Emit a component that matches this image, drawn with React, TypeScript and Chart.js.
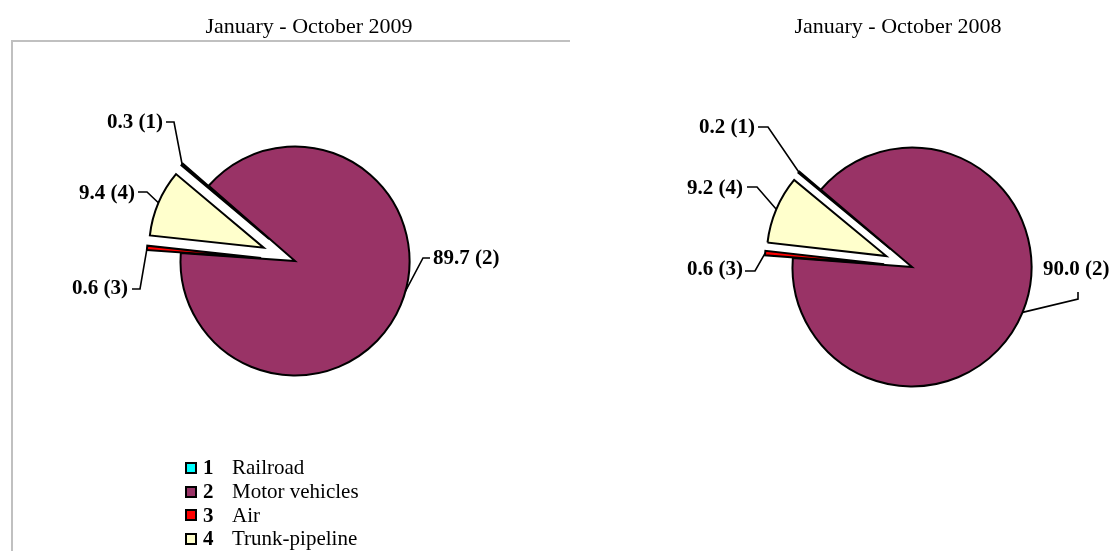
import React, { useEffect, useRef } from "react";
import { Chart, registerables } from "chart.js";

Chart.register(...registerables);

// ---------- data ----------
const categories = ["Railroad", "Motor vehicles", "Air", "Trunk-pipeline"];
const categoryNumbers = ["1", "2", "3", "4"];
const values2009 = [0.3, 89.7, 0.6, 9.4];
const values2008 = [0.2, 90.0, 0.6, 9.2];
const title2009 = "January - October 2009";
const title2008 = "January - October 2008";

// ---------- styles ----------
const sliceColors = ["#00FFFF", "#993366", "#FF0000", "#FFFFCC"];
const exploded = [true, false, true, true];
const H = 551;
const FONT = '"Liberation Serif", "Times New Roman", serif';

type LabelPos = { tx: number; ty: number; align: "left" | "right"; elbows: [number, number][]; at?: number };
type PieLayout = {
  left: number;
  width: number;
  cx: number;
  cy: number;
  r: number;
  explode: number;
  rotation: number;
  labels: LabelPos[];
};

const layout2009: PieLayout = {
  left: 0,
  width: 600,
  cx: 295,
  cy: 261,
  r: 114.5,
  explode: 34,
  rotation: 310,
  labels: [
    { tx: -132, ty: -138, align: "right", elbows: [[-129, -139], [-121, -139]] },
    { tx: 138, ty: -2, align: "left", elbows: [[135, -3], [128, -3]], at: 0.478 },
    { tx: -167, ty: 28, align: "right", elbows: [[-163, 28], [-155, 28]] },
    { tx: -160, ty: -67, align: "right", elbows: [[-157, -69], [-148, -69]] },
  ],
};

const layout2008: PieLayout = {
  left: 600,
  width: 514,
  cx: 312,
  cy: 267,
  r: 119.5,
  explode: 28,
  rotation: 309.6,
  labels: [
    { tx: -157, ty: -139, align: "right", elbows: [[-154, -140], [-144, -140]] },
    { tx: 131, ty: 3, align: "left", elbows: [[166, 25], [166, 32]] },
    { tx: -169, ty: 3, align: "right", elbows: [[-167, 4], [-157, 4]] },
    { tx: -169, ty: -78, align: "right", elbows: [[-165, -80], [-155, -80]] },
  ],
};

function PieChart({ values, layout }: { values: number[]; layout: PieLayout }) {
  const ref = useRef<HTMLCanvasElement>(null);
  useEffect(() => {
    const canvas = ref.current;
    if (!canvas) return;
    const bw = 2;
    const side = 2 * layout.r + bw;
    const padL = layout.cx - side / 2;
    const padT = layout.cy - side / 2;
    const padding = {
      left: padL,
      top: padT,
      right: layout.width - padL - side,
      bottom: H - padT - side,
    };
    const shifts = exploded.map((e) => (e ? layout.explode : 0));

    const explodePlugin = {
      id: "explodeSlices",
      beforeDatasetDraw(chart: any, args: any) {
        const ctx = chart.ctx;
        const meta = args.meta;
        meta.data.forEach((arc: any, i: number) => {
          const mid = (arc.startAngle + arc.endAngle) / 2;
          const d = shifts[i] || 0;
          ctx.save();
          ctx.translate(Math.cos(mid) * d, Math.sin(mid) * d);
          arc.draw(ctx);
          ctx.restore();
        });
        return false;
      },
    };

    const labelPlugin = {
      id: "leaderLabels",
      afterDatasetsDraw(chart: any) {
        const ctx = chart.ctx;
        const meta = chart.getDatasetMeta(0);
        const data = chart.data.datasets[0].data as number[];
        meta.data.forEach((arc: any, i: number) => {
          const { x, y, startAngle, endAngle, outerRadius } = arc;
          const mid = (startAngle + endAngle) / 2;
          const L = layout.labels[i];
          const frac = L.at ?? 0.5;
          const a = startAngle + (endAngle - startAngle) * frac;
          const d = shifts[i] || 0;
          const ox = x + Math.cos(mid) * d;
          const oy = y + Math.sin(mid) * d;
          const px = ox + Math.cos(a) * outerRadius;
          const py = oy + Math.sin(a) * outerRadius;
          ctx.save();
          ctx.strokeStyle = "#000";
          ctx.lineWidth = 1.6;
          ctx.lineJoin = "miter";
          ctx.beginPath();
          ctx.moveTo(x + L.elbows[0][0], y + L.elbows[0][1]);
          for (let k = 1; k < L.elbows.length; k++) ctx.lineTo(x + L.elbows[k][0], y + L.elbows[k][1]);
          ctx.lineTo(px, py);
          ctx.stroke();
          ctx.font = `bold 21px ${FONT}`;
          ctx.fillStyle = "#000";
          ctx.textAlign = L.align;
          ctx.textBaseline = "middle";
          ctx.fillText(`${data[i].toFixed(1)} (${categoryNumbers[i]})`, x + L.tx, y + L.ty);
          ctx.restore();
        });
      },
    };

    const chart = new Chart(canvas, {
      type: "pie",
      data: {
        labels: categories,
        datasets: [
          {
            data: values,
            backgroundColor: sliceColors,
            hoverBackgroundColor: sliceColors,
            borderColor: "#000000",
            hoverBorderColor: "#000000",
            borderWidth: bw,
            hoverBorderWidth: bw,
            borderJoinStyle: "miter",
            offset: 0,
            hoverOffset: 0,
          } as any,
        ],
      },
      options: {
        responsive: false,
        animation: false,
        events: [],
        rotation: layout.rotation,
        layout: { padding },
        plugins: {
          legend: { display: false },
          tooltip: { enabled: false },
          title: { display: false },
        },
      } as any,
      plugins: [explodePlugin, labelPlugin],
    });
    return () => chart.destroy();
  }, [values, layout]);

  return (
    <canvas
      ref={ref}
      width={layout.width}
      height={H}
      style={{ position: "absolute", left: layout.left, top: 0, width: layout.width, height: H }}
    />
  );
}

export default function App() {
  const titleStyle = (cx: number): React.CSSProperties => ({
    position: "absolute",
    left: cx - 200,
    width: 400,
    top: 12,
    lineHeight: "28px",
    textAlign: "center",
    fontFamily: FONT,
    fontSize: 22,
    color: "#000",
    whiteSpace: "nowrap",
  });
  return (
    <div
      style={{
        position: "fixed",
        left: 0,
        top: 0,
        width: 1114,
        height: H,
        background: "#fff",
        overflow: "hidden",
      }}
    >
      {/* plot-area frame remnants */}
      <div style={{ position: "absolute", left: 11, top: 40, width: 559, height: 2, background: "#c0c0c0" }} />
      <div style={{ position: "absolute", left: 11, top: 42, width: 2, height: H - 42, background: "#c0c0c0" }} />

      <PieChart values={values2009} layout={layout2009} />
      <PieChart values={values2008} layout={layout2008} />

      <div style={titleStyle(309)}>{title2009}</div>
      <div style={titleStyle(898)}>{title2008}</div>

      <div style={{ position: "absolute", left: 185, top: 456, fontFamily: FONT, fontSize: 21, color: "#000" }}>
        {categories.map((c, i) => (
          <div key={c} style={{ display: "flex", alignItems: "center", height: 23.7 }}>
            <span
              style={{
                display: "inline-block",
                boxSizing: "border-box",
                width: 12,
                height: 12,
                border: "2px solid #000",
                background: sliceColors[i],
              }}
            />
            <span style={{ display: "inline-block", width: 35, paddingLeft: 6, boxSizing: "border-box", fontWeight: "bold" }}>
              {categoryNumbers[i]}
            </span>
            <span>{c}</span>
          </div>
        ))}
      </div>
    </div>
  );
}
